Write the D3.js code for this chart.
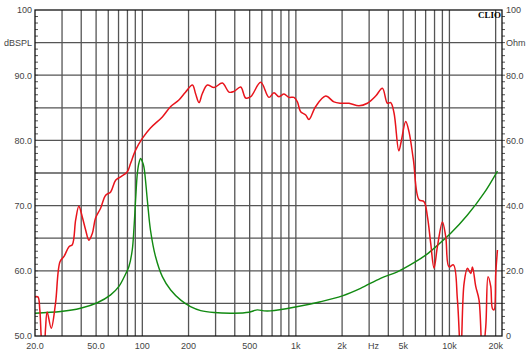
<html>
  <head>
    <meta charset="UTF-8" />
    <script src="https://d3js.org/d3.v7.min.js"></script>
    <style>
      body { margin: 0; background: #fff; }
    </style>
  </head>
  <body>
    <svg id="svg"></svg>
    <script>
      // SPL response (Hz, dB)
      var splFreq = [20, 20.9, 21.5, 22.3, 22.9, 23.4, 24.0, 25.5, 27.2, 29.1, 30.9, 33.3, 35, 36.8, 38.6, 40.6, 42.7, 44.9, 47.2, 49.6,
        53.5, 57.7, 62.2, 67, 72.2, 79.9, 83.9, 90.4, 100, 113, 135, 153, 173, 191, 212, 222, 234, 246, 265, 293, 332, 367, 395,
        437, 471, 508, 590, 668, 720, 776, 837, 902, 972, 1023, 1074, 1159, 1217, 1346, 1564, 1770, 1958, 2218, 2576, 2923,
        3311, 3660, 3946, 4147, 4358, 4680, 4850, 5192, 5456, 5828, 6339, 6834, 7190, 7554, 7938, 8352, 9006, 9464, 9940,
        10618, 11278, 11852, 12446, 13104, 13770, 14126, 14838, 15596, 16408, 17242, 17848, 18580, 19056, 19526, 20032, 20546];
      var splDb = [56.0, 56.0, 54.0, 48.5, 48.0, 51.0, 53.7, 51.2, 55.0, 61.4, 62.2, 63.7, 64.0, 67.8, 69.9, 68.3, 66.3, 64.7, 65.7, 68.1,
        69.6, 71.6, 72.1, 73.9, 74.4, 75.2, 76.5, 78.5, 80.3, 81.9, 83.6, 85.2, 86.2, 87.4, 88.5, 87.2, 85.8, 87.2, 88.5, 88.1, 88.8, 87.4, 87.5,
        88.2, 86.5, 86.7, 88.9, 86.6, 87.3, 86.7, 87.1, 86.6, 86.6, 85.9, 84.4, 83.9, 83.2, 85.2, 86.8, 85.9, 85.7, 85.7, 85.3, 85.7,
        86.8, 88.0, 85.7, 85.8, 84.2, 78.4, 79.8, 82.9, 81.3, 77.0, 70.9, 70.6, 68.3, 64.2, 60.4, 63.7, 67.5, 65.2, 60.6,
        60.9, 55.5, 47.0, 58.0, 60.4, 59.6, 60.6, 57.6, 55.5, 47.0, 51.4, 59.1, 57.6, 54.2, 54.0, 59.6, 63.2];

      // Impedance (Hz, Ohm)
      var impFreq = [20, 29.4, 39.6, 50.9, 62.2, 70.4, 77.8, 81.8, 86, 88.2, 90.4, 92.8, 95, 97.5, 100, 102.4, 107.8, 113, 122, 135,
        153, 178, 206, 240, 293, 395, 495, 561, 619, 685, 972, 1449, 2008, 2638, 3560, 4580, 5878, 7190, 7938, 10198, 13104, 16790, 20546];
      var impOhm = [7.0, 7.5, 8.5, 10.2, 12.6, 15.2, 19.0, 21.3, 26.4, 33.0, 41.7, 49.9, 53.0, 54.5, 53.5, 51.9, 41.7, 32.5, 24.3, 18.2,
        14.1, 11.0, 9.0, 7.8, 7.2, 7.0, 7.3, 8.0, 7.7, 7.7, 8.8, 10.5, 12.3, 14.6, 17.7, 19.7, 22.5, 25.2, 26.9, 31.5, 37.1, 43.8, 50.6];

      var xTicks = [20, 50, 100, 200, 500, 1000, 2000, 5000, 10000, 20000];
      var xTickLabels = ["20.0", "50.0", "100", "200", "500", "1k", "2k", "5k", "10k", "20k"];
      var leftTicks = [100, 95, 90, 80, 70, 60, 50];
      var leftLabels = ["100", "dBSPL", "90.0", "80.0", "70.0", "60.0", "50.0"];
      var rightTicks = [100, 90, 80, 60, 40, 20, 0];
      var rightLabels = ["100", "Ohm", "80.0", "60.0", "40.0", "20.0", "0"];

      var width = 530, height = 364;
      var margin = { left: 35, right: 28, top: 10, bottom: 28 };
      var pw = width - margin.left - margin.right,
        ph = height - margin.top - margin.bottom;

      var svg = d3.select("#svg").attr("width", width).attr("height", height);

      var x = d3.scaleLog().domain([20, 22000]).range([0, pw]);
      var yL = d3.scaleLinear().domain([50, 100]).range([ph, 0]);
      var yR = d3.scaleLinear().domain([0, 100]).range([ph, 0]);

      var g = svg.append("g").attr("transform", "translate(" + margin.left + "," + margin.top + ")");

      g.append("defs").append("clipPath").attr("id", "clip")
        .append("rect").attr("width", pw).attr("height", ph);

      // vertical grid: every 1-2-3..9 per decade
      var vGrid = [];
      [10, 100, 1000, 10000].forEach(function (dec) {
        for (var k = 1; k <= 9; k++) {
          var f = dec * k;
          if (f > 20 && f <= 20000) vGrid.push(f);
        }
      });

      g.append("g").selectAll("line").data(vGrid).enter().append("line")
        .attr("x1", (d) => x(d)).attr("x2", (d) => x(d))
        .attr("y1", 0).attr("y2", ph)
        .attr("stroke", "#555").attr("stroke-width", 1.3);

      g.append("g").selectAll("line").data(d3.range(55, 100, 5)).enter().append("line")
        .attr("x1", 0).attr("x2", pw)
        .attr("y1", (d) => yL(d)).attr("y2", (d) => yL(d))
        .attr("stroke", "#555").attr("stroke-width", 1.3);

      // minor ticks
      g.append("g").selectAll("line").data(d3.range(51, 100, 1)).enter().append("line")
        .attr("x1", 0).attr("x2", 3)
        .attr("y1", (d) => yL(d)).attr("y2", (d) => yL(d))
        .attr("stroke", "#555").attr("stroke-width", 1);
      g.append("g").selectAll("line").data(d3.range(2, 100, 2)).enter().append("line")
        .attr("x1", pw).attr("x2", pw + 3)
        .attr("y1", (d) => yR(d)).attr("y2", (d) => yR(d))
        .attr("stroke", "#555").attr("stroke-width", 1);

      var curves = g.append("g").attr("clip-path", "url(#clip)");

      var impLine = d3.line()
        .x((d, i) => x(impFreq[i])).y((d) => yR(d))
        .curve(d3.curveCatmullRom.alpha(0.5));
      curves.append("path").datum(impOhm)
        .attr("d", impLine).attr("fill", "none")
        .attr("stroke", "#128a12").attr("stroke-width", 1.4);

      var splLine = d3.line()
        .x((d, i) => x(splFreq[i])).y((d) => yL(d))
        .curve(d3.curveCatmullRom.alpha(0.5));
      curves.append("path").datum(splDb)
        .attr("d", splLine).attr("fill", "none")
        .attr("stroke", "#e8141c").attr("stroke-width", 1.5);

      // frame
      g.append("rect").attr("width", pw).attr("height", ph)
        .attr("fill", "none").attr("stroke", "#111").attr("stroke-width", 1.3);

      var font = "Liberation Sans, Arial, sans-serif";

      g.append("g").selectAll("text").data(xTicks).enter().append("text")
        .attr("x", (d) => x(d)).attr("y", ph + 13)
        .attr("text-anchor", "middle")
        .style("font-family", font).style("font-size", "9px").attr("fill", "#444")
        .text((d, i) => xTickLabels[i]);
      g.append("text").attr("x", x(3200)).attr("y", ph + 13)
        .attr("text-anchor", "middle")
        .style("font-family", font).style("font-size", "9px").attr("fill", "#444")
        .text("Hz");

      g.append("g").selectAll("text").data(leftTicks).enter().append("text")
        .attr("x", -3).attr("y", (d) => yL(d) + 3.3)
        .attr("text-anchor", "end")
        .style("font-family", font).style("font-size", "9px").attr("fill", "#444")
        .text((d, i) => leftLabels[i]);

      g.append("g").selectAll("text").data(rightTicks).enter().append("text")
        .attr("x", pw + 4).attr("y", (d) => yR(d) + 3.3)
        .attr("text-anchor", "start")
        .style("font-family", font).style("font-size", "9px").attr("fill", "#444")
        .text((d, i) => rightLabels[i]);

      g.append("text").attr("x", pw - 1).attr("y", 7.5)
        .attr("text-anchor", "end")
        .style("font-family", "Liberation Serif, Times New Roman, serif")
        .style("font-size", "9px").style("font-weight", "bold").attr("fill", "#000")
        .text("CLIO");
    </script>
  </body>
</html>
